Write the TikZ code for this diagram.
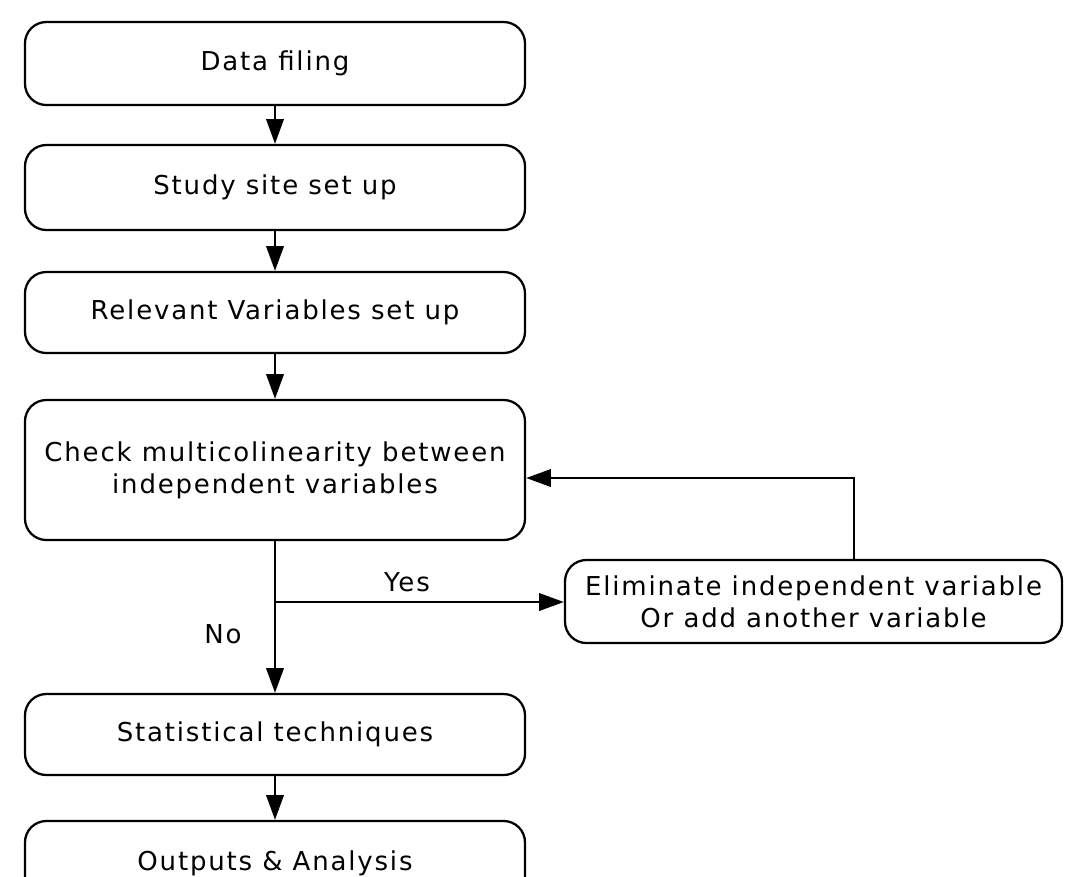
\documentclass[tikz,border=0pt]{standalone}
\usepackage{fontspec}
\setmainfont{DejaVu Sans}[LetterSpace=7]
\usetikzlibrary{arrows.meta}
\begin{document}
\begin{tikzpicture}[x=0.75pt,y=-0.75pt,
  box/.style={draw, line width=1.7pt, rounded corners=16pt, minimum width=375pt, align=center, inner sep=0pt, font=\fontsize{19.5}{24}\selectfont},
  arr/.style={line width=1.7pt, -{Triangle[length=18.5pt,width=13pt]}},
  lbl/.style={font=\fontsize{19.5}{24}\selectfont, inner sep=0pt}]
\useasboundingbox (0,0) rectangle (1067,876);
\clip (0,0) rectangle (1067,876);
\node[box, minimum height=62.25pt] (b1) at (275,63.5) {Data filing};
\node[box, minimum height=63.75pt] (b2) at (275,187.5) {Study site set up};
\node[box, minimum height=60.75pt] (b3) at (275,312.5) {Relevant Variables set up};
\node[box, minimum height=105pt] (b4) at (275,470) {Check multicolinearity between\\independent variables};
\node[box, minimum height=60.75pt] (b5) at (275,734.5) {Statistical techniques};
\node[box, minimum height=63.75pt] (b6) at (275,863.5) {Outputs \& Analysis};
\node[box, minimum width=372.75pt, minimum height=62.25pt] (el) at (813.5,601.5) {Eliminate independent variable\\Or add another variable};
\coordinate (split) at (275,602);
\coordinate (loopc) at (854,478);
\draw[arr] (b1) -- (b2);
\draw[arr] (b2) -- (b3);
\draw[arr] (b3) -- (b4);
\draw[arr] (b4) -- (b5);
\draw[arr] (b5) -- (b6);
\draw[arr] (split) -- (split -| el.west);
\draw[arr] (el.north -| loopc) |- (b4.east |- loopc);
\node[lbl] (yes) at (407,582) {Yes};
\node[lbl] (no) at (223,634) {No};
\end{tikzpicture}
\end{document}
